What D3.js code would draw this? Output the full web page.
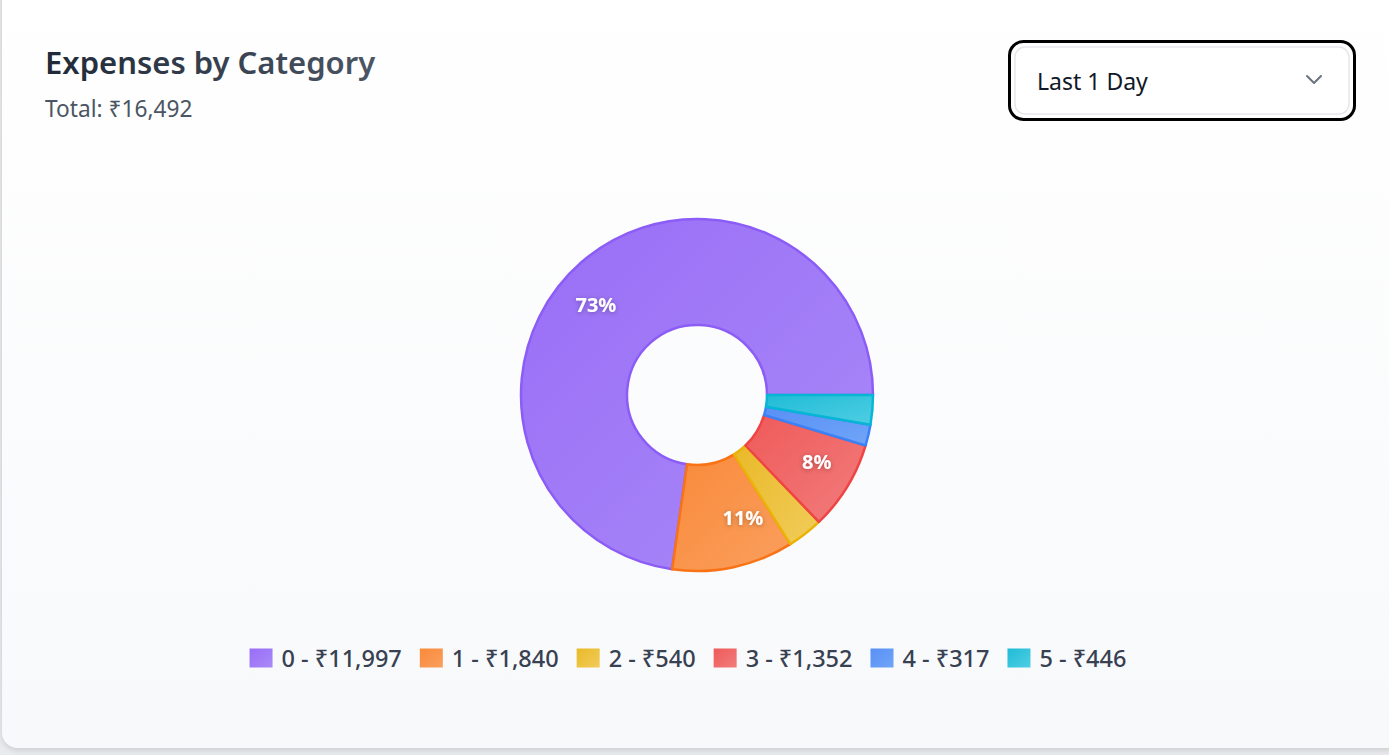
<!DOCTYPE html>
<html><head><meta charset="utf-8">
<script src="https://cdn.jsdelivr.net/npm/d3@7"></script>
<style>
html,body{margin:0;padding:0;background:#e9ebee;overflow:hidden}
svg{display:block;font-family:"Noto Sans","Open Sans",sans-serif}
</style></head><body>
<svg id="chart" width="1389" height="755"></svg>
<script>
// ---- data ----
const categories = ["0", "1", "2", "3", "4", "5"];
const values = [11997, 1840, 540, 1352, 317, 446];
const titleText = "Expenses by Category";
const currency = "₹";
const periodLabel = "Last 1 Day";
// ---- colours ----
const fillStart = ["#996df6", "#f98a3a", "#e9b928", "#ef5a5a", "#5890f5", "#20bcd6"];
const fillEnd   = ["#a98af8", "#fa9f5e", "#f1cc5a", "#f27c7c", "#70a5f8", "#4fcee3"];
const strokeColors = ["#8b5cf6", "#f97316", "#eab308", "#ef4444", "#3b82f6", "#06b6d4"];

const W = 1389, H = 755;
const svg = d3.select("#chart");
const defs = svg.append("defs");

// card shadow + gradient
const sh = defs.append("filter").attr("id", "cardShadow").attr("x", "-5%").attr("y", "-5%").attr("width", "110%").attr("height", "110%");
sh.append("feDropShadow").attr("dx", 0).attr("dy", 2).attr("stdDeviation", 3).attr("flood-color", "#000").attr("flood-opacity", 0.14);
const cg = defs.append("linearGradient").attr("id", "cardGrad").attr("x1", 0).attr("y1", 0).attr("x2", 0).attr("y2", 1);
cg.append("stop").attr("offset", "0%").attr("stop-color", "#ffffff");
cg.append("stop").attr("offset", "100%").attr("stop-color", "#f8f9fb");
const tg = defs.append("linearGradient").attr("id", "titleGrad").attr("x1", 0).attr("y1", 0).attr("x2", 1).attr("y2", 0);
tg.append("stop").attr("offset", "0%").attr("stop-color", "#1f2937");
tg.append("stop").attr("offset", "100%").attr("stop-color", "#4b5563");
const ts = defs.append("filter").attr("id", "textShadow").attr("x", "-50%").attr("y", "-50%").attr("width", "200%").attr("height", "200%");
ts.append("feDropShadow").attr("dx", 0).attr("dy", 1).attr("stdDeviation", 2.5).attr("flood-color", "#000").attr("flood-opacity", 0.3);

values.forEach((v, i) => {
  const g = defs.append("linearGradient").attr("id", "sg" + i).attr("x1", 0).attr("y1", 0).attr("x2", 1).attr("y2", 1);
  g.append("stop").attr("offset", "0%").attr("stop-color", fillStart[i]);
  g.append("stop").attr("offset", "100%").attr("stop-color", fillEnd[i]);
});

svg.append("rect").attr("x", 2).attr("y", -20).attr("width", 1410).attr("height", 768)
  .attr("rx", 16).attr("fill", "url(#cardGrad)").attr("filter", "url(#cardShadow)");

// header
svg.append("text").attr("x", 45).attr("y", 74).attr("font-size", 31).attr("font-weight", 600)
  .attr("fill", "url(#titleGrad)").text(titleText);
const total = d3.sum(values);
const fmt = d3.format(",");
svg.append("text").attr("x", 45).attr("y", 117).attr("font-size", 22.7)
  .attr("fill", "#4b5563").text("Total: " + currency + fmt(total));

// dropdown
const dd = svg.append("g");
dd.append("rect").attr("x", 1009.5).attr("y", 41.5).attr("width", 345).attr("height", 78).attr("rx", 14)
  .attr("fill", "#fff").attr("stroke", "#000").attr("stroke-width", 3);
dd.append("rect").attr("x", 1015).attr("y", 47).attr("width", 334).attr("height", 67).attr("rx", 10)
  .attr("fill", "none").attr("stroke", "#e5e7eb").attr("stroke-width", 1.5);
dd.append("text").attr("x", 1037).attr("y", 90).attr("font-size", 23).attr("fill", "#111827").text(periodLabel);
dd.append("path").attr("d", "M1307,76 L1314,83 L1321,76").attr("fill", "none")
  .attr("stroke", "#6b7280").attr("stroke-width", 2).attr("stroke-linecap", "round").attr("stroke-linejoin", "round");

// pie
const cx = 697, cy = 395, R = 176, r0 = 70;
const pie = d3.pie().sort(null).value(d => d.value)
  .startAngle(Math.PI / 2).endAngle(Math.PI / 2 - 2 * Math.PI);
const data = categories.map((c, i) => ({ cat: c, value: values[i], i }));
const arcs = pie(data);
const arc = d3.arc().innerRadius(r0).outerRadius(R);
const labelArc = d3.arc().innerRadius(r0).outerRadius(R);
const pg = svg.append("g").attr("transform", `translate(${cx},${cy})`);
pg.selectAll("path.slice").data(arcs).join("path").attr("class", "slice")
  .attr("d", arc)
  .attr("fill", d => `url(#sg${d.data.i})`)
  .attr("stroke", d => strokeColors[d.data.i])
  .attr("stroke-width", 2.5).attr("stroke-linejoin", "round");

pg.selectAll("text.pct").data(arcs.filter(d => d.value / total >= 0.05)).join("text")
  .attr("class", "pct")
  .each(function (d) {
    const [x, y] = labelArc.centroid(d);
    d3.select(this).attr("x", x).attr("y", y + 2)
      .attr("text-anchor", x < 0 ? "end" : "start");
  })
  .attr("dominant-baseline", "central")
  .attr("font-size", 20).attr("font-weight", 700).attr("fill", "#fff")
  .attr("filter", "url(#textShadow)")
  .text(d => Math.round(d.value / total * 100) + "%");

// legend
const lg = svg.append("g");
const sw = 23, swH = 19, gapT = 9, gapItem = 18;
const items = lg.selectAll("g.item").data(data).join("g").attr("class", "item");
items.append("rect").attr("width", sw).attr("height", swH).attr("y", -swH / 2)
  .attr("fill", d => `url(#sg${d.i})`);
items.append("text").attr("x", sw + gapT).attr("y", 0).attr("dominant-baseline", "central")
  .attr("font-size", 23.5).attr("font-weight", 500).attr("fill", "#374151")
  .text(d => d.cat + " - " + currency + fmt(d.value));
let widths = [];
items.each(function () {
  const t = d3.select(this).select("text").node().getComputedTextLength();
  widths.push(sw + gapT + t + gapItem);
});
const totalW = d3.sum(widths);
let xpos = cx - totalW / 2;
items.attr("transform", (d, i) => { const x = xpos; xpos += widths[i]; return `translate(${x},658)`; });
</script>
</body></html>
